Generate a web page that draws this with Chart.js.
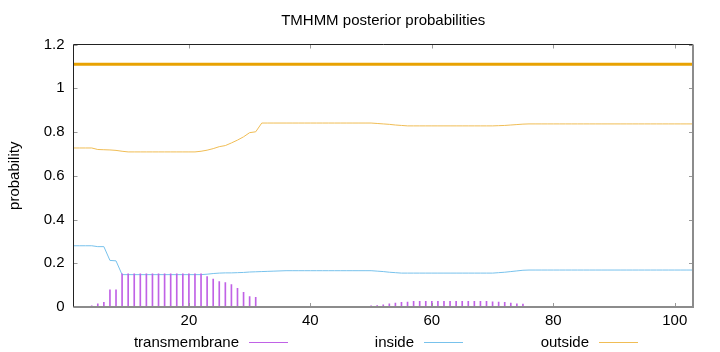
<!DOCTYPE html>
<html>
<head>
<meta charset="utf-8">
<title>TMHMM posterior probabilities</title>
<script src="https://cdn.jsdelivr.net/npm/chart.js@4.4.1/dist/chart.umd.min.js"></script>
<style>
  html, body { margin: 0; padding: 0; background: #fff; }
  #wrap { position: relative; width: 720px; height: 352px; }
  #legend { position: absolute; left: 0; top: 333px; width: 720px; height: 18px;
            font-family: 'Liberation Sans', Arial, sans-serif; font-size: 15px; color: #000; }
  #legend .item { position: absolute; top: 0; width: 175px; height: 18px; line-height: 18px;
                  display: flex; align-items: center; justify-content: flex-end; white-space: nowrap; }
  #legend .sample { width: 39px; height: 1px; margin-left: 10px; }
</style>
</head>
<body>
<div id="wrap">
  <canvas id="tmhmm" width="720" height="352"></canvas>
  <div id="legend"></div>
</div>
<script>
const seriesNames = ['transmembrane', 'inside', 'outside'];
const seriesColors = ['#c062e6', '#78c2ec', '#f0bd55'];
const topologyColor = '#e8a202';

// posterior probability per residue (1..103)
const transmembrane = [
    0, 0, 0.002, 0.005, 0.015, 0.021, 0.079, 0.079, 0.152, 0.152,
    0.152, 0.152, 0.152, 0.152, 0.152, 0.152, 0.152, 0.152, 0.152, 0.152,
    0.152, 0.152, 0.139, 0.128, 0.116, 0.112, 0.102, 0.085, 0.067, 0.048,
    0.044, 0, 0, 0, 0, 0, 0, 0, 0, 0,
    0, 0, 0, 0, 0, 0, 0, 0, 0.003, 0.005,
    0.007, 0.010, 0.015, 0.018, 0.021, 0.023, 0.026, 0.026, 0.026, 0.026,
    0.026, 0.026, 0.026, 0.026, 0.026, 0.026, 0.026, 0.026, 0.026, 0.024,
    0.023, 0.021, 0.018, 0.015, 0.013, 0, 0, 0, 0, 0,
    0, 0, 0, 0, 0, 0, 0, 0, 0, 0,
    0, 0, 0, 0, 0, 0, 0, 0, 0, 0,
    0, 0, 0
];
const inside = [
    0.280, 0.280, 0.280, 0.280, 0.276, 0.276, 0.213, 0.211, 0.148, 0.148,
    0.148, 0.148, 0.148, 0.148, 0.148, 0.148, 0.148, 0.148, 0.148, 0.148,
    0.148, 0.148, 0.150, 0.153, 0.155, 0.156, 0.156, 0.157, 0.158, 0.160,
    0.161, 0.162, 0.163, 0.164, 0.165, 0.166, 0.166, 0.166, 0.166, 0.166,
    0.166, 0.166, 0.166, 0.166, 0.166, 0.166, 0.166, 0.166, 0.166, 0.166,
    0.164, 0.162, 0.159, 0.157, 0.155, 0.155, 0.155, 0.155, 0.155, 0.155,
    0.155, 0.155, 0.155, 0.155, 0.155, 0.155, 0.155, 0.155, 0.155, 0.155,
    0.157, 0.159, 0.162, 0.165, 0.168, 0.169, 0.169, 0.169, 0.169, 0.169,
    0.169, 0.169, 0.169, 0.169, 0.169, 0.169, 0.169, 0.169, 0.169, 0.169,
    0.169, 0.169, 0.169, 0.169, 0.169, 0.169, 0.169, 0.169, 0.169, 0.169,
    0.169, 0.169, 0.169
];
const outside = [
    0.727, 0.727, 0.727, 0.727, 0.720, 0.719, 0.718, 0.716, 0.712, 0.709,
    0.709, 0.709, 0.709, 0.709, 0.709, 0.709, 0.709, 0.709, 0.709, 0.709,
    0.709, 0.712, 0.717, 0.724, 0.733, 0.738, 0.750, 0.763, 0.778, 0.797,
    0.801, 0.841, 0.841, 0.841, 0.841, 0.841, 0.841, 0.841, 0.841, 0.841,
    0.841, 0.841, 0.841, 0.841, 0.841, 0.841, 0.841, 0.841, 0.841, 0.841,
    0.839, 0.837, 0.835, 0.832, 0.830, 0.828, 0.828, 0.828, 0.828, 0.828,
    0.828, 0.828, 0.828, 0.828, 0.828, 0.828, 0.828, 0.828, 0.828, 0.828,
    0.829, 0.830, 0.832, 0.834, 0.836, 0.837, 0.837, 0.837, 0.837, 0.837,
    0.837, 0.837, 0.837, 0.837, 0.837, 0.837, 0.837, 0.837, 0.837, 0.837,
    0.837, 0.837, 0.837, 0.837, 0.837, 0.837, 0.837, 0.837, 0.837, 0.837,
    0.837, 0.837, 0.837
];

// predicted topology: one outside segment, drawn at the top
const topologyFrom = [1];
const topologyTo = [103];
const topologyLevel = [1.11];

const xTicks = [20, 40, 60, 80, 100];
const yTicks = [0, 0.2, 0.4, 0.6, 0.8, 1, 1.2];

const positions = inside.map((v, i) => i + 1);
const toPoints = arr => arr.map((v, i) => ({ x: positions[i], y: v }));

const topologyPoints = [];
topologyFrom.forEach((start, i) => {
    topologyPoints.push({ x: start, y: topologyLevel[i] });
    topologyPoints.push({ x: topologyTo[i], y: topologyLevel[i] });
});

Chart.defaults.font.family = "'Liberation Sans', Arial, sans-serif";
Chart.defaults.font.size = 15;
Chart.defaults.color = '#000';

// gnuplot style box: inward ticks on all sides, dark left/top, grey right/bottom
const framePlugin = {
    id: 'frame',
    afterDatasetsDraw(chart) {
        const ctx = chart.ctx;
        const a = chart.chartArea;
        const x = chart.scales.x, y = chart.scales.y;
        ctx.save();
        ctx.strokeStyle = '#999';
        ctx.lineWidth = 1;
        ctx.beginPath();
        xTicks.forEach(v => {
            const px = Math.round(x.getPixelForValue(v)) + 0.5;
            ctx.moveTo(px, a.bottom); ctx.lineTo(px, a.bottom - 4);
            ctx.moveTo(px, a.top); ctx.lineTo(px, a.top + 4);
        });
        yTicks.forEach(v => {
            const py = Math.round(y.getPixelForValue(v)) + 0.5;
            ctx.moveTo(a.left, py); ctx.lineTo(a.left + 4, py);
            ctx.moveTo(a.right, py); ctx.lineTo(a.right - 4, py);
        });
        ctx.stroke();

        ctx.strokeStyle = '#222';
        ctx.beginPath();
        ctx.moveTo(a.left, a.bottom);
        ctx.lineTo(a.left, a.top);
        ctx.lineTo(a.right, a.top);
        ctx.stroke();

        ctx.strokeStyle = '#8c8c8c';
        ctx.lineWidth = 2;
        ctx.beginPath();
        ctx.moveTo(a.left, a.bottom);
        ctx.lineTo(a.right, a.bottom);
        ctx.lineTo(a.right, a.top);
        ctx.stroke();
        ctx.restore();
    }
};

const chart = new Chart(document.getElementById('tmhmm'), {
    type: 'line',
    data: {
        datasets: [
            {
                type: 'bar',
                label: seriesNames[0],
                data: toPoints(transmembrane),
                backgroundColor: seriesColors[0],
                borderWidth: 0,
                barThickness: 1,
                grouped: false
            },
            {
                label: seriesNames[1],
                data: toPoints(inside),
                borderColor: seriesColors[1],
                borderWidth: 1,
                pointRadius: 0,
                tension: 0,
                fill: false
            },
            {
                label: seriesNames[2],
                data: toPoints(outside),
                borderColor: seriesColors[2],
                borderWidth: 1,
                pointRadius: 0,
                tension: 0,
                fill: false
            },
            {
                label: 'topology',
                data: topologyPoints,
                borderColor: topologyColor,
                borderWidth: 3,
                pointRadius: 0,
                fill: false
            }
        ]
    },
    options: {
        responsive: false,
        animation: false,
        devicePixelRatio: 1,
        layout: { padding: { left: 0, right: 27, top: 0, bottom: 19 } },
        plugins: {
            legend: { display: false },
            tooltip: { enabled: false },
            title: {
                display: true,
                text: 'TMHMM posterior probabilities',
                fullSize: false,
                font: { size: 15, weight: 'normal' },
                color: '#000',
                padding: { top: 11.5, bottom: 15 }
            }
        },
        scales: {
            x: {
                type: 'linear',
                min: 1,
                max: 103,
                offset: false,
                grid: { display: false, drawTicks: false, offset: false },
                border: { display: false },
                ticks: { padding: 5, maxRotation: 0, callback: v => String(v) },
                afterBuildTicks: scale => { scale.ticks = xTicks.map(v => ({ value: v })); },
                afterFit: scale => { scale.height = 26; }
            },
            y: {
                min: 0,
                max: 1.2,
                grid: { display: false, drawTicks: false },
                border: { display: false },
                ticks: { padding: 9, callback: v => String(v) },
                afterBuildTicks: scale => { scale.ticks = yTicks.map(v => ({ value: v })); },
                afterFit: scale => { scale.width = 73.5; },
                title: {
                    display: true,
                    text: 'probability',
                    font: { size: 15 },
                    padding: { top: 6, bottom: 0 }
                }
            }
        }
    },
    plugins: [framePlugin]
});

// legend in gnuplot style: label text first, line sample after it
const legend = document.getElementById('legend');
seriesNames.forEach((name, i) => {
    const item = document.createElement('div');
    item.className = 'item';
    item.style.left = (113 + 175 * i) + 'px';
    const text = document.createElement('span');
    text.textContent = name;
    const sample = document.createElement('span');
    sample.className = 'sample';
    sample.style.background = seriesColors[i];
    item.appendChild(text);
    item.appendChild(sample);
    legend.appendChild(item);
});
</script>
</body>
</html>
